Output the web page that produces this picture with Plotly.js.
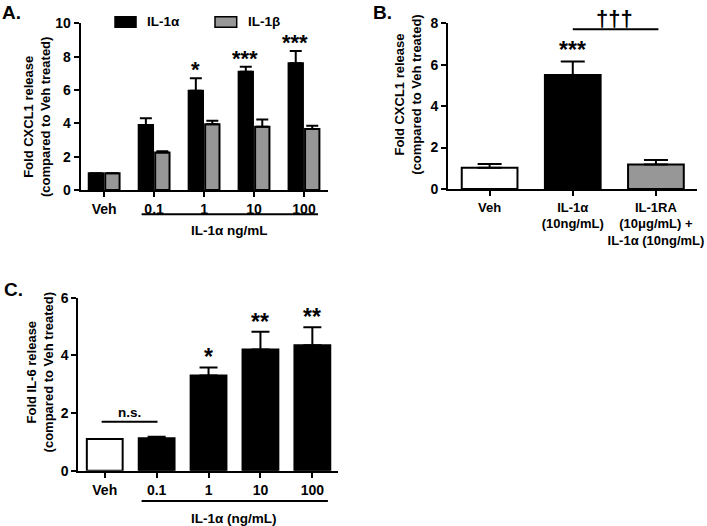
<!DOCTYPE html>
<html>
<head>
<meta charset="utf-8">
<script src="https://cdn.plot.ly/plotly-3.0.1.min.js"></script>
<style>html,body{margin:0;padding:0;background:#fff;}#chart{width:707px;height:526px;}</style>
</head>
<body>
<div id="chart"></div>
<script>
// ---- Panel A data ----
var catsA = ['Veh', '0.1', '1', '10', '100'];
var seriesNames = ['IL-1α', 'IL-1β'];
var il1aVals = [1.0, 3.9, 5.95, 7.1, 7.6];
var il1aErr  = [0, 0.4, 0.75, 0.3, 0.74];
var il1bVals = [1.0, 2.25, 3.94, 3.8, 3.66];
var il1bErr  = [0, 0.07, 0.21, 0.43, 0.2];
var starsA   = ['', '', '*', '***', '***'];
var groupLabelA = 'IL-1α ng/mL';

// ---- Panel B data ----
var catsB = ['Veh', 'IL-1α<br>(10ng/mL)', 'IL-1RA<br>(10μg/mL) +<br>IL-1α (10ng/mL)'];
var valsB = [1.03, 5.5, 1.18];
var errB  = [0.18, 0.65, 0.22];
var starsB = ['', '***', ''];
var daggerB = '†††';

// ---- Panel C data ----
var catsC = ['Veh', '0.1', '1', '10', '100'];
var valsC = [1.1, 1.13, 3.3, 4.2, 4.35];
var errC  = [0, 0.05, 0.28, 0.62, 0.63];
var starsC = ['', '', '*', '**', '**'];
var nsLabel = 'n.s.';
var groupLabelC = 'IL-1α (ng/mL)';

var BLACK = '#000000', GRAY = '#979797', WHITE = '#ffffff';
var FONT = 'Liberation Sans, Arial, sans-serif';

function zeros(a){ return a.map(function(){ return 0; }); }
function idx(a){ return a.map(function(_, i){ return i; }); }

var traces = [
  {type:'bar', x: idx(catsA), y: il1aVals, name: seriesNames[0], xaxis:'x', yaxis:'y',
   marker:{color:BLACK, line:{color:BLACK, width:2}},
   error_y:{type:'data', symmetric:false, array: il1aErr, arrayminus: zeros(il1aErr), color:BLACK, thickness:2, width:6}},
  {type:'bar', x: idx(catsA), y: il1bVals, name: seriesNames[1], xaxis:'x', yaxis:'y',
   marker:{color:GRAY, line:{color:BLACK, width:2}},
   error_y:{type:'data', symmetric:false, array: il1bErr, arrayminus: zeros(il1bErr), color:BLACK, thickness:2, width:6}},
  {type:'bar', x: idx(catsB), y: valsB, xaxis:'x2', yaxis:'y2', width:0.67, offsetgroup:'b',
   marker:{color:[WHITE, BLACK, GRAY], line:{color:BLACK, width:2}},
   error_y:{type:'data', symmetric:false, array: errB, arrayminus: zeros(errB), color:BLACK, thickness:2, width:12}},
  {type:'bar', x: idx(catsC), y: valsC, xaxis:'x3', yaxis:'y3', width:0.69, offsetgroup:'c',
   marker:{color:[WHITE, BLACK, BLACK, BLACK, BLACK], line:{color:BLACK, width:2}},
   error_y:{type:'data', symmetric:false, array: errC, arrayminus: zeros(errC), color:BLACK, thickness:2, width:9}}
];

function xax(domain, range, cats, fs){
  return {domain: domain, range: range, tickmode:'array', tickvals: idx(cats), ticktext: cats,
    showline:true, linewidth:2, linecolor:BLACK, ticks:'outside', ticklen:5, tickwidth:2, tickcolor:BLACK,
    ticklabeloverflow:'allow',
    showgrid:false, zeroline:false, fixedrange:true, tickfont:{size:fs||14, family:FONT, weight:'bold', color:BLACK}};
}
function yax(domain, range){
  return {domain: domain, range: range, dtick:2, tick0:0,
    showline:true, linewidth:2, linecolor:BLACK, ticks:'outside', ticklen:5, tickwidth:2, tickcolor:BLACK,
    showgrid:false, zeroline:false, fixedrange:true, tickfont:{size:14, family:FONT, weight:'bold', color:BLACK}};
}

var annotations = [];
function ann(o){ o.showarrow = false; o.font = Object.assign({family:FONT, weight:'bold', color:BLACK, size:13}, o.font||{}); annotations.push(o); }

// panel letters
ann({text:'A.', xref:'paper', yref:'paper', x:0.0, y:0.977, xanchor:'left', yanchor:'middle', font:{size:19}});
ann({text:'B.', xref:'paper', yref:'paper', x:0.525, y:0.977, xanchor:'left', yanchor:'middle', font:{size:19}});
ann({text:'C.', xref:'paper', yref:'paper', x:0.003, y:0.449, xanchor:'left', yanchor:'middle', font:{size:19}});

// y titles
ann({text:'Fold CXCL1 release<br>(compared to Veh treated)', xref:'paper', yref:'paper', x:0.0516, y:0.7785, textangle:-90, xanchor:'center', yanchor:'middle', font:{size:13}});
ann({text:'Fold CXCL1 release<br>(compared to Veh treated)', xref:'paper', yref:'paper', x:0.5771, y:0.82, textangle:-90, xanchor:'center', yanchor:'middle', font:{size:13}});
ann({text:'Fold IL-6 release<br>(compared to Veh treated)', xref:'paper', yref:'paper', x:0.0561, y:0.2914, textangle:-90, xanchor:'center', yanchor:'middle', font:{size:13}});

// legend for A (manual)
var shapes = [];
shapes.push({type:'rect', xref:'paper', yref:'paper', x0:0.1627, x1:0.1924, y0:0.948, y1:0.9683, fillcolor:BLACK, line:{color:BLACK, width:1.5}});
shapes.push({type:'rect', xref:'paper', yref:'paper', x0:0.3041, x1:0.3348, y0:0.948, y1:0.9683, fillcolor:GRAY, line:{color:BLACK, width:1.5}});
ann({text:seriesNames[0], xref:'paper', yref:'paper', x:0.2051, y:0.9582, xanchor:'left', yanchor:'middle', font:{size:13.5}});
ann({text:seriesNames[1], xref:'paper', yref:'paper', x:0.3475, y:0.9582, xanchor:'left', yanchor:'middle', font:{size:13.5}});

// stars panel A (above IL-1α bars)
starsA.forEach(function(s, i){
  if(!s) return;
  ann({text:s, xref:'x', yref:'y', x:i-0.18, y: il1aVals[i] + il1aErr[i], yanchor:'bottom', yshift:-6, font:{size:22}});
});
// underline + group label A
shapes.push({type:'line', xref:'x', yref:'paper', x0:0.75, x1:4.28, y0:0.5926, y1:0.5926, line:{color:BLACK, width:2}});
ann({text:groupLabelA, xref:'x', yref:'paper', x:2.515, y:0.5627, xanchor:'center', yanchor:'middle', font:{size:13.5}});

// panel B
starsB.forEach(function(s, i){
  if(!s) return;
  ann({text:s, xref:'x2', yref:'y2', x:i, y: valsB[i] + errB[i], yanchor:'bottom', yshift:-3, font:{size:23}});
});
shapes.push({type:'line', xref:'x2', yref:'y2', x0:1.0, x1:2.03, y0:7.71, y1:7.71, line:{color:BLACK, width:2}});
ann({text:daggerB, xref:'x2', yref:'y2', x:1.5, y:7.71, yanchor:'bottom', yshift:-4, font:{size:22}});

// panel C
starsC.forEach(function(s, i){
  if(!s) return;
  ann({text:s, xref:'x3', yref:'y3', x:i, y: valsC[i] + errC[i], yanchor:'bottom', yshift:-5, font:{size:23}});
});
shapes.push({type:'line', xref:'x3', yref:'y3', x0:-0.06, x1:1.017, y0:1.70, y1:1.70, line:{color:BLACK, width:2}});
ann({text:nsLabel, xref:'x3', yref:'y3', x:0.48, y:1.70, yanchor:'bottom', yshift:0, font:{size:13.5}});
shapes.push({type:'line', xref:'x3', yref:'paper', x0:0.71, x1:4.3, y0:0.0475, y1:0.0475, line:{color:BLACK, width:2}});
ann({text:groupLabelC, xref:'x3', yref:'paper', x:2.5, y:0.0152, xanchor:'center', yanchor:'middle', font:{size:13.5}});

var layout = {
  width:707, height:526,
  margin:{l:0, r:0, t:0, b:0},
  paper_bgcolor:WHITE, plot_bgcolor:WHITE,
  font:{family:FONT, color:BLACK, weight:'bold'},
  showlegend:false,
  barmode:'group', bargap:0.34, bargroupgap:0.13,
  xaxis: Object.assign(xax([0.1141, 0.4639], [-0.47, 4.48], catsA), {anchor:'y'}),
  yaxis: Object.assign(yax([0.6388, 0.9557], [0, 10]), {anchor:'x'}),
  xaxis2: Object.assign(xax([0.6337, 0.9854], [-0.5, 2.49], catsB, 13), {anchor:'y2'}),
  yaxis2: Object.assign(yax([0.6407, 0.9557], [0, 8]), {anchor:'x2'}),
  xaxis3: Object.assign(xax([0.1107, 0.4785], [-0.51, 4.5], catsC), {anchor:'y3'}),
  yaxis3: Object.assign(yax([0.1051, 0.434], [0, 6]), {anchor:'x3'}),
  shapes: shapes,
  annotations: annotations
};

Plotly.newPlot('chart', traces, layout, {staticPlot:true, displayModeBar:false});
</script>
</body>
</html>
